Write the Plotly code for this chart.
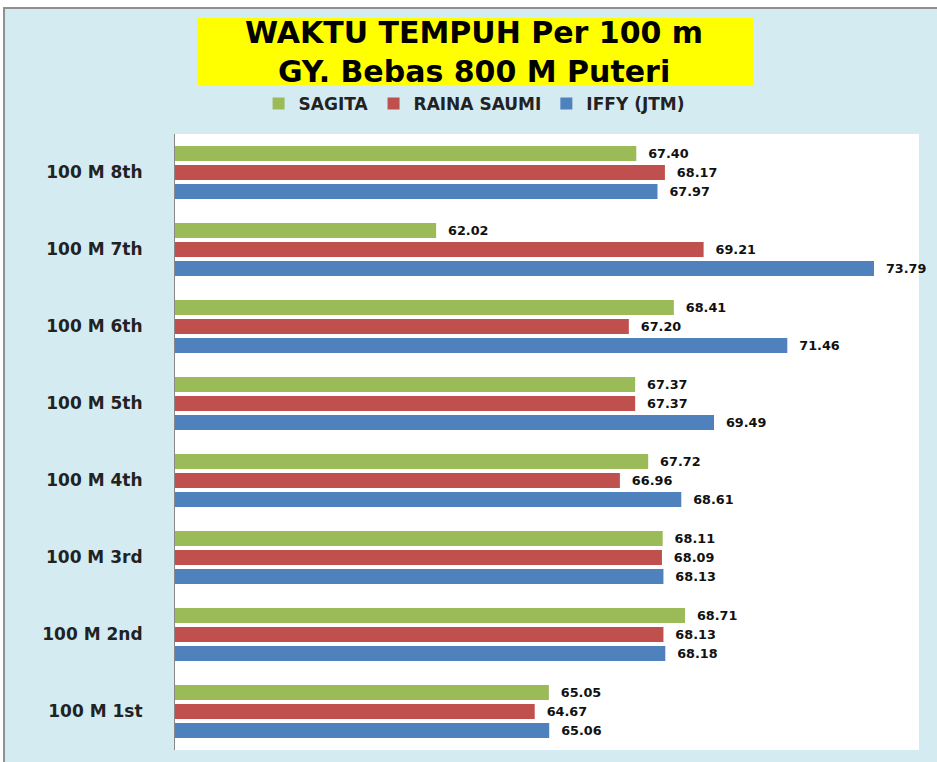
import plotly.graph_objects as go

categories = ["100 M 1st", "100 M 2nd", "100 M 3rd", "100 M 4th",
              "100 M 5th", "100 M 6th", "100 M 7th", "100 M 8th"]
sagita = [65.05, 68.71, 68.11, 67.72, 67.37, 68.41, 62.02, 67.40]
raina = [64.67, 68.13, 68.09, 66.96, 67.37, 67.20, 69.21, 68.17]
iffy = [65.06, 68.18, 68.13, 68.61, 69.49, 71.46, 73.79, 67.97]
title_lines = ["WAKTU TEMPUH Per 100 m", "GY. Bebas 800 M Puteri"]

series = [
    ("IFFY (JTM)", iffy, "#4F81BD"),
    ("RAINA SAUMI", raina, "#C0504D"),
    ("SAGITA", sagita, "#9BBB59"),
]

fig = go.Figure()
for name, vals, col in series:
    fig.add_trace(go.Bar(
        y=categories, x=vals, name=name, orientation="h",
        marker=dict(color=col, line=dict(width=0)),
        texttemplate="\u00a0\u00a0%{x:.2f}", textposition="outside",
        textfont=dict(family="DejaVu Sans", size=16, color="#111", weight="bold"),
        cliponaxis=False,
    ))

fig.update_layout(
    width=937, height=762,
    paper_bgcolor="white",
    plot_bgcolor="white",
    margin=dict(l=175, r=18, t=134, b=12),
    barmode="group", bargap=0.26, bargroupgap=0.2,
    showlegend=True,
    legend=dict(orientation="h", x=0.402, xanchor="center", y=0.8635, yanchor="middle",
                yref="container", traceorder="reversed",
                font=dict(family="DejaVu Sans", size=17, color="#222", weight="bold"),
                bgcolor="rgba(0,0,0,0)"),
    xaxis=dict(range=[55, 75], showticklabels=False, showgrid=False, zeroline=False,
               ticks="", showline=False),
    yaxis=dict(showgrid=False, showline=True, linecolor="#888", linewidth=1,
               ticks="", ticklabelstandoff=28,
               tickfont=dict(family="DejaVu Sans", size=17, color="#222", weight="bold")),
    font=dict(family="DejaVu Sans"),
)

# background panel with grey frame, then white plot area
fig.add_shape(type="rect", xref="paper", yref="paper", layer="below",
              x0=-0.2298, x1=1.04, y0=-0.035, y1=1.2045,
              fillcolor="#d5ebf2", line=dict(color="#8f8f8f", width=2))
fig.add_shape(type="rect", xref="paper", yref="paper", layer="below",
              x0=0, x1=1, y0=0, y1=1, fillcolor="white", line=dict(width=0))
# yellow title box
fig.add_shape(type="rect", xref="paper", yref="paper", layer="above",
              x0=0.0296, x1=0.7769, y0=1.0795, y1=1.1883,
              fillcolor="#FFFF00", line=dict(width=0))
fig.add_annotation(
    text="<br>".join(title_lines), xref="paper", yref="paper", x=0.402, y=1.1339,
    yanchor="middle", xanchor="center", showarrow=False,
    font=dict(family="DejaVu Sans", size=30, color="black", weight="bold"),
)

fig.write_html("out.html", config={"displayModeBar": False},
               post_script="document.body.style.margin='0';document.body.style.overflow='hidden';")
